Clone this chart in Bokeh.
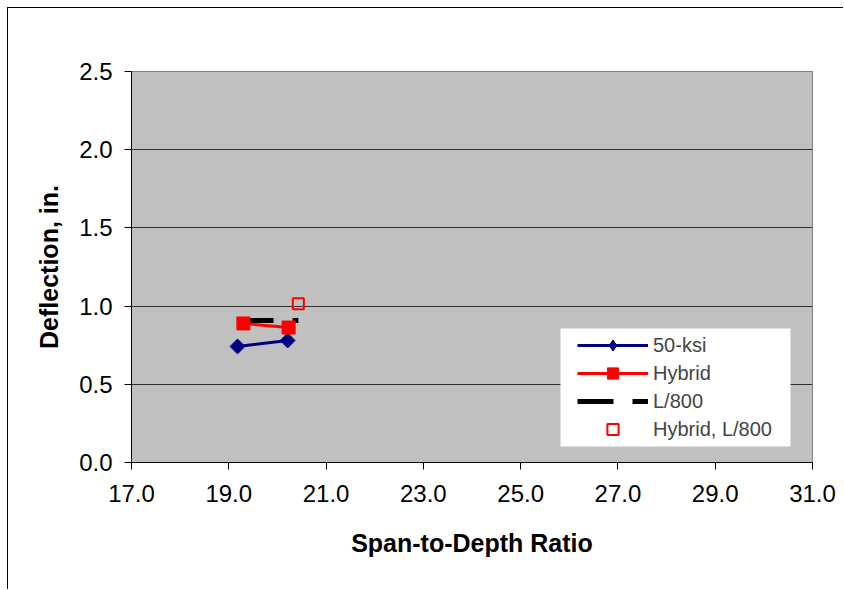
import math
from bokeh.plotting import figure
from bokeh.models import (Range1d, FixedTicker, Legend, LegendItem,
                          NumeralTickFormatter, BoxAnnotation)
from bokeh.embed import file_html
from bokeh.resources import INLINE

# Span-to-depth ratio vs. midspan deflection
ksi50_x = [19.18, 20.21]
ksi50_y = [0.742, 0.780]
hybrid_x = [19.30, 20.23]
hybrid_y = [0.889, 0.863]
l800_x = [19.18, 20.43]
l800_y = [0.908, 0.908]
hybrid_l800_x = [20.43]
hybrid_l800_y = [1.015]

x_ticks = [17, 19, 21, 23, 25, 27, 29, 31]
y_ticks = [0.0, 0.5, 1.0, 1.5, 2.0, 2.5]

FONT = "Liberation Sans"

p = figure(
    width=836, height=582,
    x_range=Range1d(17, 31), y_range=Range1d(0, 2.5),
    output_backend="svg", toolbar_location=None,
    min_border_left=123, min_border_right=32,
    min_border_top=63, min_border_bottom=128,
    background_fill_color="#C0C0C0", border_fill_color="white",
)
p.styles = {
    "margin-left": "7px", "margin-top": "7px",
    "border-left": "1px solid black", "border-top": "1px solid black",
}
p.outline_line_color = "#808080"

for ax in (p.xaxis[0], p.yaxis[0]):
    ax.axis_line_color = "black"
    ax.major_tick_line_color = "black"
    ax.minor_tick_line_color = None
    ax.major_tick_in = 0
    ax.major_tick_out = 7
    ax.major_label_text_font = FONT
    ax.major_label_text_font_size = "24px"
    ax.major_label_text_color = "black"
    ax.axis_label_text_font = FONT
    ax.axis_label_text_font_size = "25px"
    ax.axis_label_text_font_style = "bold"
    ax.axis_label_text_color = "black"
    ax.formatter = NumeralTickFormatter(format="0.0")

p.xaxis.ticker = FixedTicker(ticks=x_ticks)
p.yaxis.ticker = FixedTicker(ticks=y_ticks)
p.xaxis.axis_label = "Span-to-Depth Ratio"
p.yaxis.axis_label = "Deflection, in."
p.xaxis.major_label_standoff = 15
p.yaxis.major_label_standoff = 12
p.xaxis.axis_label_standoff = 24
p.yaxis.axis_label_standoff = 13

p.xgrid.grid_line_color = None
p.ygrid.grid_line_color = "#303030"
p.ygrid.grid_line_width = 1

r_l800 = p.line(l800_x, l800_y, line_color="black", line_width=5, line_dash="36 19")
r_50_line = p.line(ksi50_x, ksi50_y, line_color="#000080", line_width=3)
# plain diamond (used for the legend swatch), covered by the rotated squares
r_50_key = p.scatter(ksi50_x, ksi50_y, marker="diamond", size=13,
                     fill_color="#000080", line_color="#000080")
p.scatter(ksi50_x, ksi50_y, marker="square", size=10.5, angle=math.pi / 4,
          fill_color="#000080", line_color="#000080")
r_hy_line = p.line(hybrid_x, hybrid_y, line_color="#FF0000", line_width=3)
r_hy_pts = p.scatter(hybrid_x, hybrid_y, marker="square", size=13,
                     fill_color="#FF0000", line_color="#FF0000")
r_hl = p.scatter(hybrid_l800_x, hybrid_l800_y, marker="square", size=11,
                 fill_color=None, line_color="#FF0000", line_width=2)

# white legend panel
p.add_layout(BoxAnnotation(
    left=429, right=659, bottom=16, top=134,
    left_units="screen", right_units="screen",
    bottom_units="screen", top_units="screen",
    fill_color="white", fill_alpha=1.0, line_color=None,
))

legend = Legend(
    items=[
        LegendItem(label="50-ksi", renderers=[r_50_line, r_50_key]),
        LegendItem(label="Hybrid", renderers=[r_hy_line, r_hy_pts]),
        LegendItem(label="L/800", renderers=[r_l800]),
        LegendItem(label="Hybrid, L/800", renderers=[r_hl]),
    ],
    location=(446, 19),
    background_fill_alpha=0.0,
    border_line_color=None,
    glyph_width=71, glyph_height=28, label_height=28, label_width=130,
    spacing=0, padding=0, margin=0, label_standoff=5,
    label_text_font=FONT, label_text_font_size="20px",
)
p.add_layout(legend)

open("out.html", "w").write(file_html(p, INLINE))
